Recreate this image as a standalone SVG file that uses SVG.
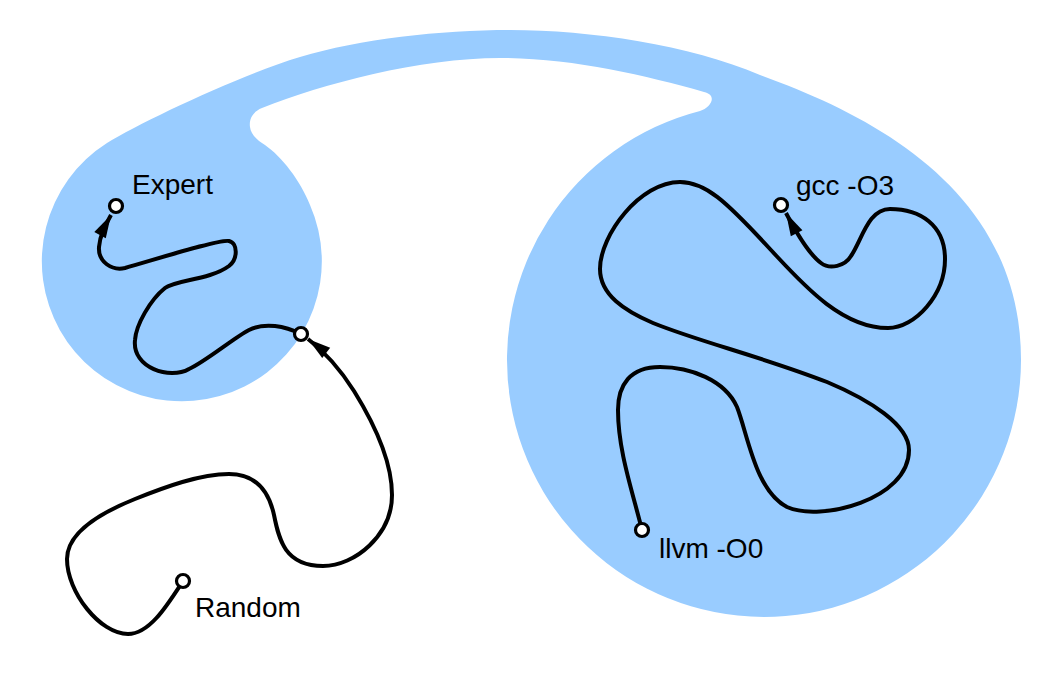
<svg xmlns="http://www.w3.org/2000/svg" width="1056" height="676" viewBox="0 0 1056 676">
<style>
.region{fill:#99CCFF;stroke:none}
.edge{fill:none;stroke:#000;stroke-width:4;stroke-linejoin:round}
.node{fill:#fff;stroke:#000;stroke-width:3.2}
.lbl{font-family:"Liberation Sans",Arial,sans-serif;font-size:28px;fill:#000}
</style>
<defs>
<marker id="ah" markerUnits="userSpaceOnUse" markerWidth="24" markerHeight="14" viewBox="0 0 22 12" refX="21" refY="6" orient="auto" overflow="visible">
<path d="M0,0 L21,6 L0,12 Z" fill="#000"/>
</marker>
</defs>
<rect width="1056" height="676" fill="#fff"/>
<g id="space">
<path class="region" d="M310,205 A140,140 0 1 1 107,143 C141,122 240,75 300,57 C360,39 440,30 510,30 C590,30 690,45 760,75 C880,118 1021,195 1021,360 A257,257 0 1 1 700,111 C711,108 718,95 704,92 C644,75 570,58 500,58 C420,58 322,84 262,108 C252,112 249,120 250,127 C251,135 258,141 265,145 C282,157 300,180 310,205 Z"/>
</g>
<g id="connectors">
<path class="edge" marker-end="url(#ah)" d="M183,581 C168,604 150,634 128,634 C100,634 67,592 67,559 C67,535 95,515 135,499 C165,487 200,474 229,474 C252,474 268,487 274,515 C279,540 285,566 323,566 C355,566 392,535 392,495 C392,460 372,420 354,391 C342,372 325,352 308,339"/>
<path class="edge" marker-end="url(#ah)" d="M301,334 C285,326 265,322 249,330 C235,337 205,362 189,369 C170,380 132,368 135,340 C136,325 150,300 165,288 C175,280 210,280 229,266 C238,259 238,243 229,241 C220,239 160,258 125,268 C112,271 98,262 99,247 C100,235 105,226 111,215"/>
<path class="edge" marker-end="url(#ah)" d="M642,530 C632,490 618,450 618,410 C618,385 630,367 660,367 C690,367 725,380 737,407 C748,435 755,490 787,507 C820,522 909,500 909,450 C909,425 870,400 827,382 C760,356 700,342 653,323 C625,311 600,295 600,269 C600,235 640,182 680,182 C705,182 725,200 770,249 C800,281 840,328 888,328 C915,328 945,295 945,259 C945,225 920,209 890,209 C868,209 862,240 851,256 C845,266 830,270 821,263 C810,255 797,234 786,213"/>
</g>
<g id="node-random"><circle class="node" cx="183" cy="581" r="6.5"/><text class="lbl" x="195" y="617">Random</text></g>
<g id="node-mid"><circle class="node" cx="301" cy="334" r="6.5"/></g>
<g id="node-expert"><circle class="node" cx="116" cy="206" r="6.5"/><text class="lbl" x="132" y="194">Expert</text></g>
<g id="node-gcc"><circle class="node" cx="781" cy="205" r="6.5"/><text class="lbl" x="796" y="195">gcc -O3</text></g>
<g id="node-llvm"><circle class="node" cx="642" cy="530" r="6.5"/><text class="lbl" x="659" y="558">llvm -O0</text></g>
</svg>
